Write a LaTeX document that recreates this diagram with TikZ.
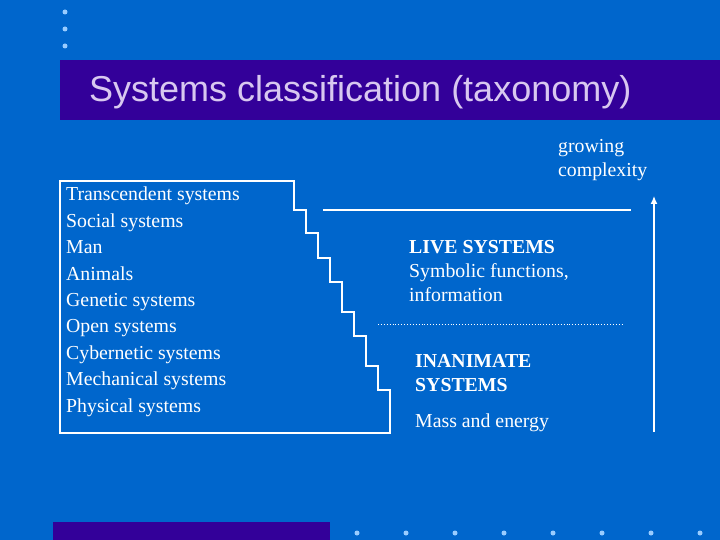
\documentclass[tikz,border=0pt]{standalone}
\usepackage{fontspec}
\usetikzlibrary{arrows.meta}
\setmainfont{Liberation Serif}
\newfontfamily\titlefont{Liberation Sans}
\definecolor{bg}{HTML}{0066CC}
\definecolor{bar}{HTML}{330099}
\definecolor{dotc}{HTML}{99CCFF}
\definecolor{ttl}{HTML}{D8C8F0}
\begin{document}
\begin{tikzpicture}[x=1pt,y=-1pt,
  txt/.style={text=white,font=\fontsize{19.8}{26.4}\selectfont,align=left,inner sep=0pt,anchor=north west},
  ln/.style={draw=white,line width=1.3pt},
  bullet/.style={circle,fill=dotc,inner sep=0pt,minimum size=5pt}]
\fill[bg] (0,0) rectangle (720,540);
\useasboundingbox (0,0) rectangle (720,540);
\fill[bar] (60,60) rectangle (720,120);
\fill[bar] (53,522) rectangle (330,540);
\foreach \y in {12,29,46} \node[bullet] at (65,\y) {};
\foreach \x in {357,406,455,504,553,602,651,700} \node[bullet] at (\x,533) {};
\node[anchor=west,text=ttl,font=\titlefont\fontsize{36}{40}\selectfont,inner sep=0pt] (title) at (89,92) {Systems classification (taxonomy)};
\draw[ln] (60,181) -- (294,181) -- (294,210) -- (306,210) -- (306,233) -- (318,233) -- (318,258) -- (330,258) -- (330,282) -- (342,282) -- (342,312) -- (354,312) -- (354,336) -- (366,336) -- (366,366) -- (378,366) -- (378,390) -- (390,390) -- (390,433) -- (60,433) -- cycle;
\node[txt] (list) at (66,187) {Transcendent systems\\Social systems\\Man\\Animals\\Genetic systems\\Open systems\\Cybernetic systems\\Mechanical systems\\Physical systems};
\coordinate (s1) at (323,210); \coordinate (s2) at (631,210);
\draw[ln] (s1) -- (s2);
\coordinate (d1) at (378,324); \coordinate (d2) at (623,324);
\draw[white,line width=0.9pt,dotted] (d1) -- (d2);
\coordinate (a1) at (654,432); \coordinate (a2) at (654,196);
\draw[ln,-{Latex[length=8pt,width=7pt]}] (a1) -- (a2);
\node[txt,font=\fontsize{19.8}{24}\selectfont] (grow) at (558,139) {growing\\complexity};
\node[txt,font=\fontsize{19.8}{24}\selectfont] (live) at (409,240) {\textbf{LIVE SYSTEMS}\\Symbolic functions,\\information};
\node[txt,font=\fontsize{19.8}{24}\selectfont] (inan) at (415,354) {\textbf{INANIMATE}\\\textbf{SYSTEMS}};
\node[txt] (mass) at (415,414) {Mass and energy};
\end{tikzpicture}
\end{document}
